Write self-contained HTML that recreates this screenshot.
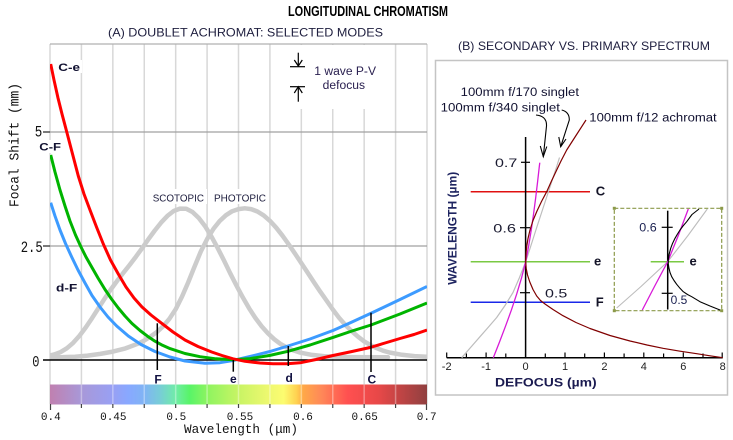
<!DOCTYPE html>
<html><head><meta charset="utf-8">
<style>
html,body{margin:0;padding:0;background:#fff;}
svg{display:block;}
text{font-family:"Liberation Sans",sans-serif;}
.m{font-family:"Liberation Mono",monospace;}
</style></head><body>
<svg width="733" height="440" viewBox="0 0 733 440" xmlns="http://www.w3.org/2000/svg">
<defs>
<linearGradient id="spec" gradientUnits="userSpaceOnUse" x1="50" y1="0" x2="427" y2="0">
<stop offset="0" stop-color="#c080b0"/>
<stop offset="0.083" stop-color="#a898d8"/>
<stop offset="0.167" stop-color="#98a0f4"/>
<stop offset="0.208" stop-color="#88a8ff"/>
<stop offset="0.25" stop-color="#80b4f4"/>
<stop offset="0.29" stop-color="#78ccd8"/>
<stop offset="0.333" stop-color="#70eca8"/>
<stop offset="0.37" stop-color="#58f468"/>
<stop offset="0.42" stop-color="#90f460"/>
<stop offset="0.5" stop-color="#c8f464"/>
<stop offset="0.58" stop-color="#eef870"/>
<stop offset="0.62" stop-color="#fcfc70"/>
<stop offset="0.655" stop-color="#ffd050"/>
<stop offset="0.672" stop-color="#ffa848"/>
<stop offset="0.72" stop-color="#ff8858"/>
<stop offset="0.79" stop-color="#ff5050"/>
<stop offset="0.87" stop-color="#e84848"/>
<stop offset="0.93" stop-color="#c04444"/>
<stop offset="1" stop-color="#904040"/>
</linearGradient>
<clipPath id="plotA"><rect x="50" y="44" width="377" height="340"/></clipPath>
<clipPath id="inset"><rect x="614.3" y="208.3" width="107.4" height="102.4"/></clipPath>
</defs>
<rect width="733" height="440" fill="#fff"/>

<!-- Titles -->
<text x="288" y="16" font-size="15" font-weight="bold" fill="#000" textLength="160" lengthAdjust="spacingAndGlyphs">LONGITUDINAL CHROMATISM</text>
<text x="108" y="36.5" font-size="12" fill="#202040" textLength="275" lengthAdjust="spacingAndGlyphs">(A) DOUBLET ACHROMAT: SELECTED MODES</text>
<text x="458" y="50" font-size="12" fill="#202040" textLength="252" lengthAdjust="spacingAndGlyphs">(B) SECONDARY VS. PRIMARY SPECTRUM</text>

<!-- Panel A grid -->
<g stroke="#d8d8d8" stroke-width="1.5">
<line x1="50" y1="44" x2="50" y2="404"/>
<line x1="81.42" y1="44" x2="81.42" y2="404"/>
<line x1="112.83" y1="44" x2="112.83" y2="404"/>
<line x1="144.25" y1="44" x2="144.25" y2="404"/>
<line x1="175.67" y1="44" x2="175.67" y2="404"/>
<line x1="207.08" y1="44" x2="207.08" y2="404"/>
<line x1="238.5" y1="44" x2="238.5" y2="404"/>
<line x1="269.92" y1="44" x2="269.92" y2="404"/>
<line x1="301.33" y1="44" x2="301.33" y2="404"/>
<line x1="332.75" y1="44" x2="332.75" y2="404"/>
<line x1="364.17" y1="44" x2="364.17" y2="404"/>
<line x1="395.58" y1="44" x2="395.58" y2="404"/>
<line x1="427" y1="44" x2="427" y2="404"/>
</g>
<line x1="50" y1="44" x2="427" y2="44" stroke="#b0b0b0" stroke-width="1.2"/>
<line x1="43" y1="132" x2="427" y2="132" stroke="#a0a0a0" stroke-width="1.2"/>
<line x1="43" y1="246" x2="427" y2="246" stroke="#a0a0a0" stroke-width="1.2"/>
<line x1="43" y1="132" x2="50" y2="132" stroke="#333" stroke-width="1.2"/>
<line x1="43" y1="246" x2="50" y2="246" stroke="#333" stroke-width="1.2"/>

<!-- legend white box -->
<rect x="287" y="45" width="85" height="64" fill="#fff"/>

<!-- luminosity curves -->
<g clip-path="url(#plotA)" fill="none" stroke="#cccccc" stroke-width="4.5" stroke-linejoin="round" stroke-linecap="round">
<polyline points="48,355.9 54.3,354.5 60.6,352.1 66.8,348.3 73.1,342.9 79.4,335.9 85.7,327.5 92,318.2 98.3,308.4 104.6,298.7 110.8,289.5 117.1,280.9 123.4,272.8 129.7,264.9 136,256.6 142.3,247.9 148.5,239.1 154.8,230.5 161.1,222.6 167.4,215.9 173.7,211 180,208.6 186.2,208.7 192.5,212 198.8,218 205.1,226.2 211.4,236.5 217.7,248.1 224,260.5 230.2,273.3 236.5,285.6 242.8,297.4 249.1,308.3 255.4,318 261.7,326.4 268,333.4 274.2,339.2 280.5,343.9 286.8,347.5 293.1,350.3 299.4,352.4 312,354.9 324.5,356.2 337.1,356.8 349.7,357.1 388,357.3"/>
<polyline points="50,357.2 62.6,357.1 75.1,356.7 87.7,355.6 100.3,353.9 112.8,351.6 125.4,348.4 138,343.7 144.3,340.5 150.5,336.6 156.8,332.1 163.1,326.3 169.4,318.8 175.7,309.2 182,296.6 188.2,282.4 194.5,266.7 200.8,251.5 207.1,239.1 213.4,228.9 219.7,221 226,215.2 232.2,211.2 238.5,209.1 244.8,208.3 251.1,209.1 257.4,211.5 263.7,215.4 270,220.9 276.2,227.7 282.5,235.7 288.8,244.5 295.1,253.8 301.4,263.3 307.7,272.8 314,282.4 320.2,291.6 326.5,300.5 332.8,309.5 339.1,317.8 345.4,325 351.7,331.2 358,336.7 364.2,341.4 370.5,345.1 376.8,348.2 383.1,350.7 389.4,352.5 402,354.8 414.5,356.1 427,356.7"/>
</g>

<!-- zero line -->
<line x1="43" y1="360" x2="427" y2="360" stroke="#000" stroke-width="1.5"/>

<!-- SCOTOPIC / PHOTOPIC labels -->
<rect x="150" y="189" width="57" height="15" fill="#fff"/>
<rect x="211" y="189" width="58" height="15" fill="#fff"/>
<text x="152.7" y="201.5" font-size="10.5" fill="#202040" textLength="51.3" lengthAdjust="spacingAndGlyphs">SCOTOPIC</text>
<text x="214" y="201.5" font-size="10.5" fill="#202040" textLength="52" lengthAdjust="spacingAndGlyphs">PHOTOPIC</text>

<!-- colored curves -->
<g clip-path="url(#plotA)" fill="none" stroke-width="3" stroke-linejoin="round">
<polyline stroke="#3d9bff" points="50.7,202.7 55,216 60,230 65.5,243.5 71.7,257 78,270 85,283 92,295.5 100,307 108,317 116.7,326 128.3,336 141,344.5 155,351.5 170,357 185,361 205,363.3 220,362.7 233,360.5 250,356.5 270,351.5 288,346 310,339 333,330.5 352,322 371,313.3 400,299.5 427,286.5"/>
<polyline stroke="#00b400" points="50.7,155 55,172 60,190 65,206 70,221 75.5,235 81,247 86,257 91.7,267 98,278 105,289.5 111.5,299 118.3,308 125,316 132,323.5 140,330.5 147.5,336.2 155,341.2 162.5,345.3 170,348.6 185,353.5 200,356.7 216,358.8 233,359.8 250,358.6 270,355.4 288,351.3 310,345 333,337.4 352,331 371,325 400,314 427,303"/>
<polyline stroke="#ff0000" points="50.7,64 54,80 58,98 62,114 66.7,131.7 72,152 78.3,176 84,194 90,210 96.5,227 103.3,244 110.5,260 118.3,274 126,287 134,298 142,307 151,315 161.7,323.3 173,332 185,340 198,346.5 211.7,352 222,355.5 233,358.8 245,361.3 260,363 273,363.8 287,363.8 300,362.8 316,359.5 333,355.5 352,351.5 370,347.5 385,343 400,338.5 414,334.5 427,330"/>
</g>

<!-- curve labels -->
<rect x="56" y="60" width="26" height="13" fill="#fff"/>
<rect x="38" y="140" width="25" height="13" fill="#fff"/>
<rect x="54" y="280" width="26" height="14" fill="#fff"/>
<text x="58.3" y="71" font-size="11" font-weight="bold" fill="#101030" textLength="21.7" lengthAdjust="spacingAndGlyphs">C-e</text>
<text x="39.3" y="150.7" font-size="11" font-weight="bold" fill="#101030" textLength="21.7" lengthAdjust="spacingAndGlyphs">C-F</text>
<text x="56" y="291.5" font-size="11" font-weight="bold" fill="#101030" textLength="21.3" lengthAdjust="spacingAndGlyphs">d-F</text>

<!-- Fraunhofer lines -->
<g stroke="#000" stroke-width="1.5">
<line x1="157.3" y1="323.3" x2="157.3" y2="370"/>
<line x1="233.3" y1="360" x2="233.3" y2="371.7"/>
<line x1="288.3" y1="346" x2="288.3" y2="366"/>
<line x1="371" y1="312.7" x2="371" y2="372"/>
</g>
<g font-size="12" font-weight="bold" fill="#101040" text-anchor="middle">
<text x="158" y="383.3">F</text>
<text x="233.3" y="383">e</text>
<text x="289.2" y="382">d</text>
<text x="371.8" y="383.3">C</text>
</g>

<!-- spectrum bar -->
<rect x="50" y="384.5" width="377" height="20" fill="url(#spec)"/>
<g stroke="#fff" stroke-opacity="0.35" stroke-width="1.5">
<line x1="81.42" y1="384.5" x2="81.42" y2="404.5"/>
<line x1="112.83" y1="384.5" x2="112.83" y2="404.5"/>
<line x1="144.25" y1="384.5" x2="144.25" y2="404.5"/>
<line x1="175.67" y1="384.5" x2="175.67" y2="404.5"/>
<line x1="207.08" y1="384.5" x2="207.08" y2="404.5"/>
<line x1="238.5" y1="384.5" x2="238.5" y2="404.5"/>
<line x1="269.92" y1="384.5" x2="269.92" y2="404.5"/>
<line x1="301.33" y1="384.5" x2="301.33" y2="404.5"/>
<line x1="332.75" y1="384.5" x2="332.75" y2="404.5"/>
<line x1="364.17" y1="384.5" x2="364.17" y2="404.5"/>
<line x1="395.58" y1="384.5" x2="395.58" y2="404.5"/>
</g>
<g stroke="#444" stroke-width="1.2">
<line x1="50.5" y1="404" x2="50.5" y2="410"/>
<line x1="81.42" y1="404" x2="81.42" y2="408"/>
<line x1="112.83" y1="404" x2="112.83" y2="408"/>
<line x1="144.25" y1="404" x2="144.25" y2="408"/>
<line x1="175.67" y1="404" x2="175.67" y2="408"/>
<line x1="207.08" y1="404" x2="207.08" y2="408"/>
<line x1="238.5" y1="404" x2="238.5" y2="408"/>
<line x1="269.92" y1="404" x2="269.92" y2="408"/>
<line x1="301.33" y1="404" x2="301.33" y2="408"/>
<line x1="332.75" y1="404" x2="332.75" y2="408"/>
<line x1="364.17" y1="404" x2="364.17" y2="408"/>
<line x1="395.58" y1="404" x2="395.58" y2="408"/>
<line x1="426.5" y1="404" x2="426.5" y2="410"/>
</g>

<!-- Panel A axis labels -->
<g class="m" font-size="11" fill="#111" text-anchor="middle">
<text class="m" x="50.8" y="420">0.4</text>
<text class="m" x="113.3" y="420">0.45</text>
<text class="m" x="176.3" y="420">0.5</text>
<text class="m" x="240" y="420">0.55</text>
<text class="m" x="303" y="420">0.6</text>
<text class="m" x="364.7" y="420">0.65</text>
<text class="m" x="426.7" y="420">0.7</text>
</g>
<text class="m" x="184" y="433" font-size="13" fill="#111" textLength="114" lengthAdjust="spacingAndGlyphs">Wavelength (μm)</text>
<text class="m" x="34.7" y="136.6" font-size="16" fill="#111" textLength="7.5" lengthAdjust="spacingAndGlyphs">5</text>
<text class="m" x="20.7" y="252" font-size="16" fill="#111" textLength="22" lengthAdjust="spacingAndGlyphs">2.5</text>
<text class="m" x="32.3" y="366.6" font-size="16" fill="#111" textLength="7.2" lengthAdjust="spacingAndGlyphs">0</text>
<text class="m" transform="translate(18.3,145) rotate(-90)" x="0" y="0" font-size="14" fill="#111" text-anchor="middle" textLength="124" lengthAdjust="spacingAndGlyphs">Focal Shift (mm)</text>

<!-- legend -->
<g stroke="#000" stroke-width="1.2" fill="none">
<line x1="298.3" y1="52.7" x2="298.3" y2="66"/>
<polyline points="294.3,60 298.3,66 302.3,60"/>
<line x1="290" y1="66.7" x2="305" y2="66.7"/>
<line x1="290" y1="86.7" x2="305" y2="86.7"/>
<line x1="298.3" y1="86.7" x2="298.3" y2="101.7"/>
<polyline points="294.3,93 298.3,86.7 302.3,93"/>
</g>
<text x="314.3" y="75" font-size="11.5" fill="#2a2050" textLength="61.7" lengthAdjust="spacingAndGlyphs">1 wave P-V</text>
<text x="322.7" y="89" font-size="11.5" fill="#2a2050" textLength="42.3" lengthAdjust="spacingAndGlyphs">defocus</text>

<!-- Panel B box -->
<rect x="435.5" y="60.5" width="292" height="334.5" fill="none" stroke="#c4c4c4" stroke-width="1.5"/>

<!-- horizontal spectral lines -->
<line x1="470.7" y1="191.7" x2="590" y2="191.7" stroke="#e01010" stroke-width="1.5"/>
<line x1="470.7" y1="261.7" x2="590" y2="261.7" stroke="#7ac943" stroke-width="1.5"/>
<line x1="470.7" y1="302.3" x2="590" y2="302.3" stroke="#1a28e8" stroke-width="1.5"/>
<g font-size="13" font-weight="bold" fill="#141428">
<text x="595.7" y="195.7">C</text>
<text x="594" y="265.5">e</text>
<text x="595.7" y="306.3">F</text>
</g>

<!-- axes B -->
<line x1="525.6" y1="137" x2="525.6" y2="358" stroke="#000" stroke-width="1.5"/>
<line x1="446.7" y1="357.7" x2="722.7" y2="357.7" stroke="#000" stroke-width="1.5"/>
<g stroke="#000" stroke-width="1.2">
<line x1="521" y1="162.3" x2="530" y2="162.3"/>
<line x1="520" y1="227.7" x2="530" y2="227.7"/>
<line x1="520" y1="292.7" x2="530" y2="292.7"/>
<line x1="446.7" y1="352.5" x2="446.7" y2="357.7"/>
<line x1="466.4" y1="353.5" x2="466.4" y2="357.7"/>
<line x1="486.1" y1="352.5" x2="486.1" y2="357.7"/>
<line x1="505.8" y1="353.5" x2="505.8" y2="357.7"/>
<line x1="545.3" y1="353.5" x2="545.3" y2="357.7"/>
<line x1="565" y1="352.5" x2="565" y2="357.7"/>
<line x1="584.7" y1="353.5" x2="584.7" y2="357.7"/>
<line x1="604.4" y1="352.5" x2="604.4" y2="357.7"/>
<line x1="624.1" y1="353.5" x2="624.1" y2="357.7"/>
<line x1="643.8" y1="352.5" x2="643.8" y2="357.7"/>
<line x1="663.6" y1="353.5" x2="663.6" y2="357.7"/>
<line x1="683.3" y1="352.5" x2="683.3" y2="357.7"/>
<line x1="703" y1="353.5" x2="703" y2="357.7"/>
<line x1="722.2" y1="352.5" x2="722.2" y2="357.7"/>
</g>
<g font-size="11" fill="#222" text-anchor="middle">
<text x="446.7" y="370">-2</text>
<text x="486.1" y="370">-1</text>
<text x="525.6" y="370">0</text>
<text x="565" y="370">1</text>
<text x="604.4" y="370">2</text>
<text x="643.8" y="370">4</text>
<text x="683.3" y="370">6</text>
<text x="722.7" y="370">8</text>
</g>
<text x="495" y="167" font-size="12" fill="#1a1a30" textLength="22.3" lengthAdjust="spacingAndGlyphs">0.7</text>
<text x="493.3" y="232.3" font-size="12" fill="#1a1a30" textLength="22.7" lengthAdjust="spacingAndGlyphs">0.6</text>
<text x="545" y="297.5" font-size="12" fill="#1a1a30" textLength="22.3" lengthAdjust="spacingAndGlyphs">0.5</text>
<text x="495" y="386.5" font-size="11.5" font-weight="bold" fill="#1a1a50" textLength="101.7" lengthAdjust="spacingAndGlyphs">DEFOCUS (µm)</text>
<text transform="translate(456.5,228.3) rotate(-90)" x="0" y="0" font-size="12" font-weight="bold" fill="#1e2460" text-anchor="middle" textLength="113" lengthAdjust="spacingAndGlyphs">WAVELENGTH (µm)</text>

<!-- B curves -->
<g fill="none" stroke-linejoin="round">
<polyline stroke="#bdbdbd" stroke-width="1.2" points="461.7,357.7 471,347 480,336.7 488.5,327 496.7,317.5 505,305.5 513,292.5 519.5,277.5 525.7,261.7 530,248.5 536.7,227.5 546.7,197 556.7,166.5 559.5,157.5"/>
<polyline stroke="#d81ad8" stroke-width="1.3" points="493.3,357.7 499.6,341.7 505.7,325.7 511.5,309.7 516.8,293.7 521.6,277.7 525.7,261.7 528.7,245.7 531.3,229.7 533.6,213.7 535.7,197.7 537.6,181.7 539.4,165.7 539.8,162.7"/>
<polyline stroke="#800000" stroke-width="1.2" points="586,120 576,135.5 566.7,150 561,161 556.7,170 551.5,181 546.7,191.7 541.5,201.5 537,211 533,220.5 530,230 528,238.5 526.7,246.5 526,254 525.7,261.7 526.2,268.5 527.5,275 529.8,282 533,289.5 536.7,296 540.5,300.5 545,304 553,309.5 563,315.7 576,322.5 590,328.5 610,335.5 630,341 647,345 663,348.3 680,351.2 696.7,353.7 710,355.8 722.7,357.7"/>
</g>

<!-- annotations -->
<text x="460.7" y="96" font-size="11.5" fill="#101030" textLength="118.3" lengthAdjust="spacingAndGlyphs">100mm f/170 singlet</text>
<text x="440.7" y="111.5" font-size="11.5" fill="#101030" textLength="119.3" lengthAdjust="spacingAndGlyphs">100mm f/340 singlet</text>
<text x="589.3" y="121.7" font-size="11.5" fill="#101030" textLength="127.4" lengthAdjust="spacingAndGlyphs">100mm f/12 achromat</text>
<g fill="none" stroke="#000" stroke-width="1.1">
<path d="M536,115 Q547,116 546.5,126 L543.3,156.7"/>
<polyline points="540.3,146 543.3,156.7 546.8,146.5"/>
<path d="M561.7,110 Q569.5,112 569.3,120 L560.7,146.7"/>
<polyline points="558.8,137 560.7,146.7 566,139"/>
</g>

<!-- inset -->
<rect x="614.3" y="208.3" width="107.4" height="102.4" fill="#fff" stroke="#8c9a4a" stroke-width="1.2" stroke-dasharray="4,2"/>
<g fill="#8c9a4a">
<rect x="612.8" y="206.8" width="3" height="3"/>
<rect x="720.2" y="206.8" width="3" height="3"/>
<rect x="612.8" y="309.2" width="3" height="3"/>
<rect x="720.2" y="309.2" width="3" height="3"/>
</g>
<line x1="650.7" y1="261.7" x2="684" y2="261.7" stroke="#7ac943" stroke-width="1.5"/>
<line x1="667.7" y1="210.7" x2="667.7" y2="309.5" stroke="#000" stroke-width="1.5"/>
<line x1="661.7" y1="227.3" x2="672.7" y2="227.3" stroke="#000" stroke-width="1.2"/>
<line x1="661.7" y1="293.3" x2="672.7" y2="293.3" stroke="#000" stroke-width="1.2"/>
<g clip-path="url(#inset)" fill="none" stroke-linejoin="round">
<polyline stroke="#bdbdbd" stroke-width="1.1" points="616.7,308 641,286.5 667.7,261.7 688,235.5 707.3,209"/>
<polyline stroke="#d81ad8" stroke-width="1.3" points="642.3,310 655,285.5 667.7,261.7 678.5,235 688.3,209"/>
<polyline stroke="#000" stroke-width="1.1" points="699,209 692,214.5 686.7,221.7 683,226 680,230 677.2,234.5 675,238.3 672.5,243.5 670.7,248.3 669.2,254 668.3,260 668.3,264 669,268.3 670,272.5 671.7,276.7 674,280.5 676.7,284.3 680,288.3 683.3,291.7 687.5,294.5 691.7,296.7 700,301.7 710,306 720,310"/>
</g>
<text x="639.3" y="231.7" font-size="11.5" fill="#1a2050" textLength="17.4" lengthAdjust="spacingAndGlyphs">0.6</text>
<text x="670.7" y="304" font-size="11.5" fill="#1a2050" textLength="16.6" lengthAdjust="spacingAndGlyphs">0.5</text>
<text x="689.5" y="265.3" font-size="13" font-weight="bold" fill="#141428">e</text>
</svg>
</body></html>
